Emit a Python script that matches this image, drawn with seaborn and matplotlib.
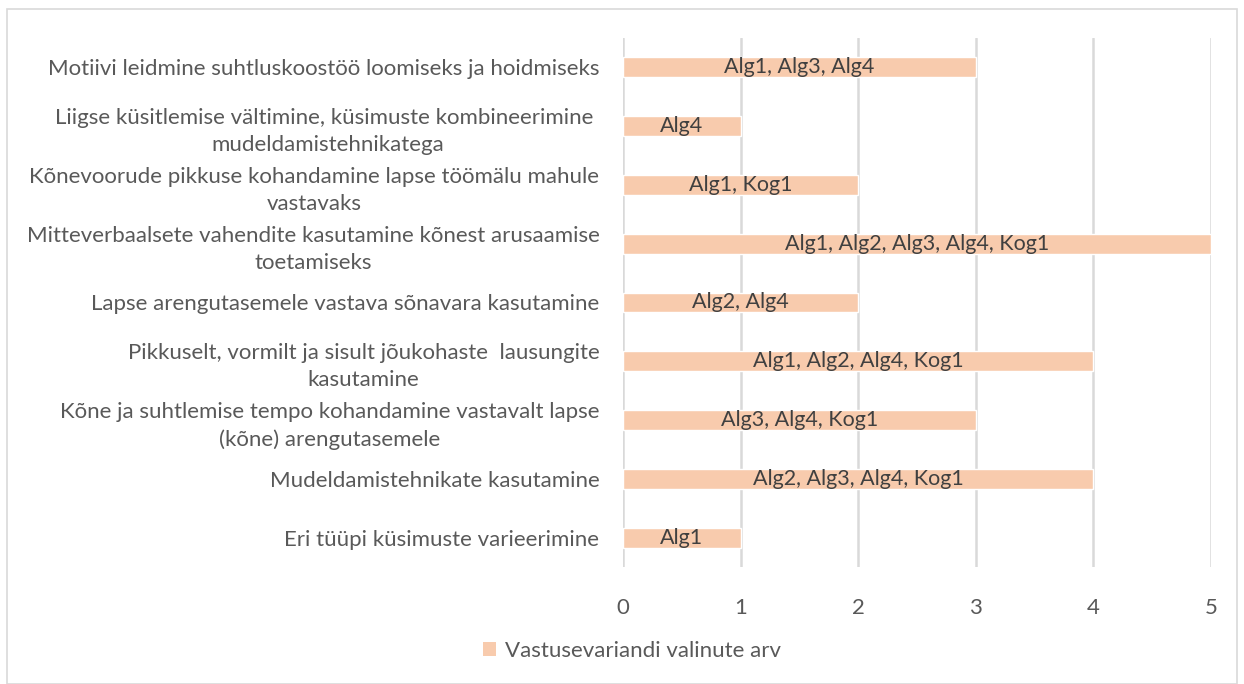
import matplotlib
matplotlib.use('Agg')
import matplotlib.pyplot as plt
import seaborn as sns
import pandas as pd
from matplotlib.patches import Patch, Rectangle

# Data (top to bottom as shown)
categories = [
    'Motiivi leidmine suhtluskoostöö loomiseks ja hoidmiseks',
    'Liigse küsitlemise vältimine, küsimuste kombineerimine \nmudeldamistehnikatega',
    'Kõnevoorude pikkuse kohandamine lapse töömälu mahule\nvastavaks',
    'Mitteverbaalsete vahendite kasutamine kõnest arusaamise\ntoetamiseks',
    'Lapse arengutasemele vastava sõnavara kasutamine',
    'Pikkuselt, vormilt ja sisult jõukohaste  lausungite\nkasutamine',
    'Kõne ja suhtlemise tempo kohandamine vastavalt lapse\n(kõne) arengutasemele',
    'Mudeldamistehnikate kasutamine',
    'Eri tüüpi küsimuste varieerimine',
]
counts = [3, 1, 2, 5, 2, 4, 3, 4, 1]
bar_labels = [
    'Alg1, Alg3, Alg4',
    'Alg4',
    'Alg1, Kog1',
    'Alg1, Alg2, Alg3, Alg4, Kog1',
    'Alg2, Alg4',
    'Alg1, Alg2, Alg4, Kog1',
    'Alg3, Alg4, Kog1',
    'Alg2, Alg3, Alg4, Kog1',
    'Alg1',
]
series_name = 'Vastusevariandi valinute arv'

df = pd.DataFrame({'kategooria': categories, 'arv': counts})

sns.set_style('white')
plt.rcParams['font.family'] = ['Lato', 'DejaVu Sans']
text_color = '#595959'
bar_color = '#F8CBAD'
grid_color = '#D9D9D9'

fig = plt.figure(figsize=(12.44, 6.84), dpi=100)
ax = fig.add_axes([623 / 1244, 1 - 567 / 684, (1211 - 623) / 1244, (567 - 38) / 684])

sns.barplot(data=df, x='arv', y='kategooria', orient='h', color=bar_color,
            width=0.34, saturation=1, ax=ax, order=categories)

ax.bar_label(ax.containers[0], labels=bar_labels, label_type='center',
             fontsize=15.5, color='#404040')

ax.set_xlim(0, 5)
ax.set_xticks(range(6))
ax.xaxis.grid(True, color=grid_color, linewidth=1.8)
ax.set_axisbelow(True)
for s in ax.spines.values():
    s.set_visible(False)
ax.set_xlabel('')
ax.set_ylabel('')
ax.tick_params(axis='y', length=0, pad=17, labelsize=16, labelcolor=text_color)
ax.tick_params(axis='x', length=0, pad=22, labelsize=16, labelcolor=text_color)
for lbl in ax.get_yticklabels():
    lbl.set_multialignment('center')
    lbl.set_linespacing(1.45)

fig.legend(handles=[Patch(facecolor=bar_color, edgecolor='none', label=series_name)],
           loc='center', bbox_to_anchor=(632 / 1244, 1 - 651 / 684), frameon=False,
           fontsize=16, labelcolor=text_color, handlelength=0.6, handleheight=0.6,
           handletextpad=0.4)

# outer chart border
fig.patches.append(Rectangle((7 / 1244, 0.0), 1 - 14 / 1244, 1 - 9 / 684,
                             transform=fig.transFigure, fill=False,
                             edgecolor=grid_color, linewidth=1.2))

fig.savefig('out.png', dpi=100)
